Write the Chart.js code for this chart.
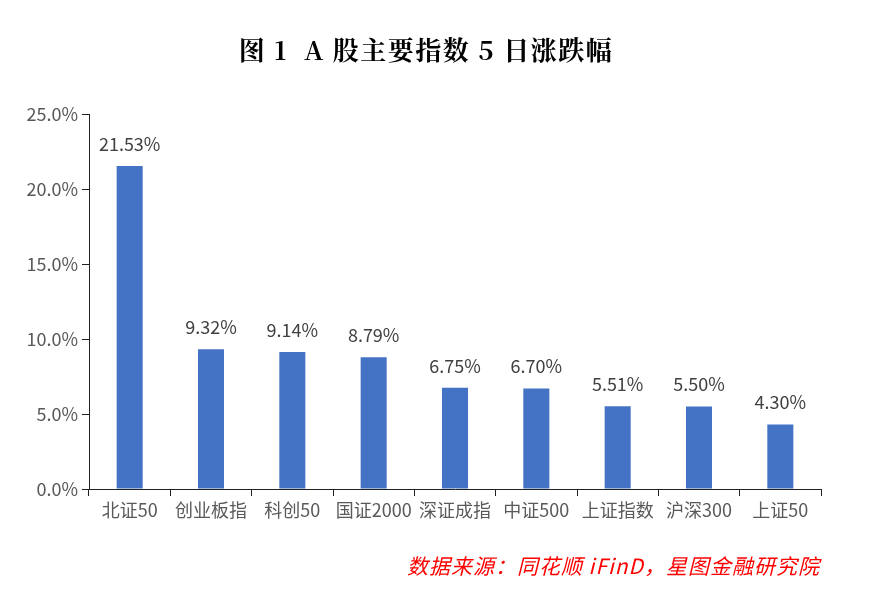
<!DOCTYPE html>
<html>
<head>
<meta charset="utf-8">
<script src="https://cdn.jsdelivr.net/npm/chart.js@4"></script>
<style>
    html, body { margin: 0; padding: 0; background: #fff; }
    #wrap { width: 870px; height: 595px; }
</style>
</head>
<body>
<div id="wrap"><canvas id="chart"></canvas></div>
<script>
const categories = ['北证50', '创业板指', '科创50', '国证2000', '深证成指', '中证500', '上证指数', '沪深300', '上证50'];
const changes = [21.53, 9.32, 9.14, 8.79, 6.75, 6.70, 5.51, 5.50, 4.30];
const yTicks = [0, 5, 10, 15, 20, 25];

const titleText = '图 1  A 股主要指数 5 日涨跌幅';
const sourceText = '数据来源：同花顺 iFinD，星图金融研究院';

const fontSans = '"Noto Sans CJK SC", "Noto Sans", sans-serif';
const textGrey = '#595959';

// title, source line and value labels
const decorations = {
    id: 'decorations',
    afterDatasetsDraw(chart) {
        const ctx = chart.ctx;
        ctx.save();
        ctx.fillStyle = '#000';
        ctx.font = 'bold 26px "Noto Serif CJK SC", "DejaVu Serif", serif';
        ctx.letterSpacing = '1.5px';
        ctx.textAlign = 'center';
        ctx.textBaseline = 'middle';
        ctx.fillText(titleText, 426, 50);

        ctx.fillStyle = '#ff0000';
        ctx.font = 'italic 21px "Noto Sans CJK SC", serif';
        ctx.letterSpacing = '1px';
        ctx.textAlign = 'right';
        ctx.fillText(sourceText, 820, 566);

        ctx.letterSpacing = '0px';
        ctx.fillStyle = '#404040';
        ctx.font = '18px ' + fontSans;
        ctx.textAlign = 'center';
        ctx.textBaseline = 'bottom';
        let meta = chart.getDatasetMeta(0);
        meta.data.forEach((bar, i) => {
            ctx.fillText(changes[i].toFixed(2) + '%', bar.x, bar.y - 13);
        });
        ctx.restore();
    }
};

new Chart(document.getElementById('chart'), {
    type: 'bar',
    data: {
        labels: categories,
        datasets: [{
            data: changes,
            backgroundColor: '#4472C4',
            barPercentage: 0.32,
            categoryPercentage: 1
        }]
    },
    options: {
        responsive: true,
        maintainAspectRatio: false,
        animation: false,
        layout: { padding: { top: 114, right: 49, bottom: 0, left: 0 } },
        plugins: {
            legend: { display: false },
            tooltip: { enabled: false }
        },
        scales: {
            x: {
                grid: { display: true, drawOnChartArea: false, tickLength: 7, color: '#222' },
                border: { display: true, color: '#222', width: 1 },
                ticks: { color: textGrey, font: { size: 18, family: fontSans }, padding: 3, maxRotation: 0 },
                afterFit(scale) { scale.height = 106; }
            },
            y: {
                min: 0,
                max: 25,
                afterBuildTicks(scale) { scale.ticks = yTicks.map(v => ({ value: v })); },
                grid: { display: true, drawOnChartArea: false, tickLength: 7, color: '#222' },
                border: { display: true, color: '#222', width: 1 },
                ticks: {
                    color: textGrey,
                    font: { size: 18, family: fontSans },
                    padding: 4,
                    callback: v => v.toFixed(1) + '%'
                },
                afterFit(scale) { scale.width = 89; }
            }
        }
    },
    plugins: [decorations]
});
</script>
</body>
</html>
